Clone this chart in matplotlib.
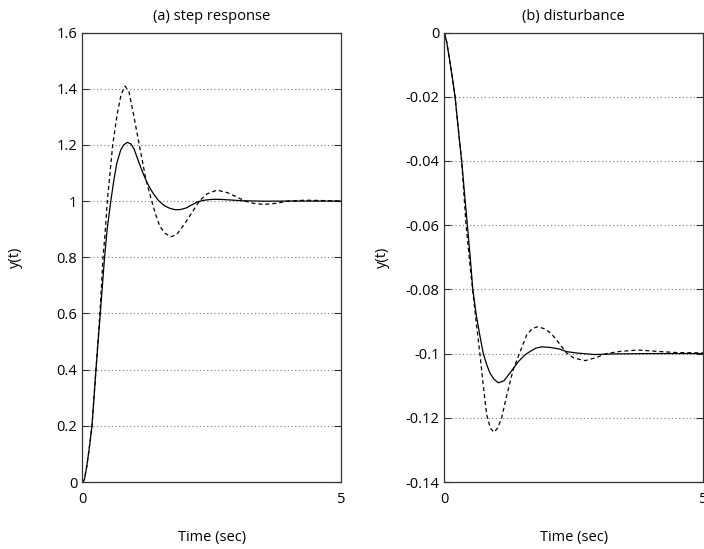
import matplotlib
matplotlib.use("Agg")
import matplotlib.pyplot as plt

plt.rcParams['font.family'] = ['Open Sans', 'DejaVu Sans']
plt.rcParams['axes.unicode_minus'] = False

# ---------------- data ----------------
step_t_solid = [0, 0.04, 0.085, 0.13, 0.187, 0.264, 0.347, 0.43, 0.48, 0.55, 0.61, 0.665,
                0.74, 0.80, 0.87, 0.94, 1.0, 1.10, 1.17, 1.24, 1.31, 1.37, 1.47, 1.58,
                1.69, 1.80, 1.90, 2.0, 2.1, 2.22, 2.35, 2.5, 2.66, 2.85, 3.1, 3.5, 4.0,
                4.5, 5.0]
step_y_solid = [0, 0.008, 0.054, 0.114, 0.2, 0.4, 0.6, 0.8, 0.9, 1.0, 1.075, 1.134,
                1.181, 1.200, 1.209, 1.203, 1.185, 1.134, 1.10, 1.07, 1.045, 1.027, 1.002, 0.984,
                0.974, 0.969, 0.970, 0.975, 0.985, 0.997, 1.003, 1.006, 1.006, 1.004, 1.001, 0.9995, 1.0,
                1.0, 1.0]

step_t_dash = [0, 0.04, 0.085, 0.13, 0.187, 0.264, 0.34, 0.40, 0.44, 0.483, 0.535, 0.587,
               0.676, 0.75, 0.825, 0.90, 0.985, 1.10, 1.23, 1.34, 1.42, 1.50, 1.60, 1.71,
               1.82, 1.98, 2.12, 2.26, 2.4, 2.6, 2.8, 3.0, 3.14, 3.3, 3.5, 3.75, 3.97,
               4.3, 4.6, 5.0]
step_y_dash = [0, 0.008, 0.054, 0.114, 0.2, 0.4, 0.6, 0.8, 0.885, 1.0, 1.1, 1.2,
               1.312, 1.38, 1.409, 1.39, 1.312, 1.2, 1.075, 1.0, 0.95, 0.909, 0.885, 0.873,
               0.88, 0.92, 0.96, 1.0, 1.025, 1.039, 1.03, 1.013, 1.0, 0.992, 0.988, 0.992, 1.0,
               1.003, 1.002, 1.0]

dist_t_solid = [0, 0.046, 0.097, 0.15, 0.207, 0.27, 0.335, 0.39, 0.445, 0.50, 0.55, 0.612,
                0.69, 0.753, 0.82, 0.882, 0.96, 1.043, 1.15, 1.27, 1.43, 1.55, 1.65, 1.77,
                1.88, 2.05, 2.23, 2.36, 2.6, 2.9, 3.3, 4.0, 5.0]
dist_y_solid = [0, -0.0029, -0.008, -0.0135, -0.0199, -0.030, -0.040, -0.050, -0.060, -0.070,
                -0.080, -0.0875, -0.0947, -0.100, -0.1035, -0.1061, -0.108, -0.1091, -0.1085,
                -0.106, -0.1025, -0.1005, -0.0994, -0.0983, -0.0979, -0.0981, -0.0986, -0.0994,
                -0.0999, -0.1003, -0.1001, -0.1, -0.1]

dist_t_dash = [0, 0.046, 0.097, 0.15, 0.207, 0.27, 0.335, 0.42, 0.50, 0.56, 0.625, 0.69,
               0.753, 0.818, 0.89, 0.96, 1.03, 1.108, 1.20, 1.33, 1.45, 1.59, 1.70, 1.81,
               1.95, 2.05, 2.14, 2.25, 2.36, 2.5, 2.72, 2.92, 3.13, 3.4, 3.75, 4.1, 4.5, 5.0]
dist_y_dash = [0, -0.0029, -0.008, -0.0135, -0.0199, -0.030, -0.040, -0.060, -0.073, -0.082,
               -0.0915, -0.1005, -0.110, -0.119, -0.1233, -0.1245, -0.1232, -0.120, -0.1134,
               -0.105, -0.100, -0.0942, -0.0922, -0.0916, -0.0924, -0.0936, -0.0952, -0.0975,
               -0.0998, -0.1014, -0.1022, -0.1013, -0.1, -0.0993, -0.0989, -0.0993, -0.0997, -0.0998]

x_ticks = [0, 5]
x_tick_labels = ["0", "5"]
step_yticks = [0, 0.2, 0.4, 0.6, 0.8, 1.0, 1.2, 1.4, 1.6]
step_ytick_labels = ["0", "0.2", "0.4", "0.6", "0.8", "1", "1.2", "1.4", "1.6"]
dist_yticks = [-0.14, -0.12, -0.10, -0.08, -0.06, -0.04, -0.02, 0]
dist_ytick_labels = ["-0.14", "-0.12", "-0.1", "-0.08", "-0.06", "-0.04", "-0.02", "0"]

titles = ["(a) step response", "(b) disturbance"]
xlabel = "Time (sec)"
ylabel = "y(t)"

# ---------------- figure ----------------
W, H = 704, 549
fig = plt.figure(figsize=(W / 100, H / 100), dpi=100)

def px_axes(x0, x1, ytop, ybot):
    return fig.add_axes([x0 / W, 1 - ybot / H, (x1 - x0) / W, (ybot - ytop) / H])

ax1 = px_axes(82.3, 341.3, 32.5, 482)
ax2 = px_axes(444.3, 703.3, 32.5, 482)

spine_col = '#333333'
fs = 10.5

def style(ax, yticks, ylabels, ylim, title, ylab_x):
    ax.set_xlim(0, 5)
    ax.set_ylim(*ylim)
    ax.set_xticks(x_ticks)
    ax.set_xticklabels(x_tick_labels)
    ax.set_yticks(yticks)
    ax.set_yticklabels(ylabels)
    ax.tick_params(axis='y', direction='in', length=5, width=0.8, color=spine_col,
                   left=True, right=True, labelsize=fs, pad=3.5)
    ax.tick_params(axis='x', direction='in', length=0, labelsize=fs, pad=7)
    for s in ax.spines.values():
        s.set_color(spine_col)
        s.set_linewidth(0.9)
    ax.yaxis.grid(True, color='#7a7a7a', linewidth=0.8, dashes=(1, 2.3))
    ax.xaxis.grid(False)
    ax.set_axisbelow(True)
    ax.set_title(title, fontsize=fs, pad=9)
    ax.set_xlabel(xlabel, fontsize=fs)
    ax.xaxis.set_label_coords(0.5, -0.106)
    ax.set_ylabel(ylabel, fontsize=fs)
    ax.yaxis.set_label_coords(ylab_x, 0.5)

ax1.plot(step_t_solid, step_y_solid, color='black', linewidth=0.9)
ax1.plot(step_t_dash, step_y_dash, color='black', linewidth=0.9, dashes=(3.2, 2.4))
style(ax1, step_yticks, step_ytick_labels, (0, 1.6), titles[0], -0.228)

ax2.plot(dist_t_solid, dist_y_solid, color='black', linewidth=0.9)
ax2.plot(dist_t_dash, dist_y_dash, color='black', linewidth=0.9, dashes=(3.2, 2.4))
style(ax2, dist_yticks, dist_ytick_labels, (-0.14, 0), titles[1], -0.208)

fig.savefig("out.png", dpi=100)
